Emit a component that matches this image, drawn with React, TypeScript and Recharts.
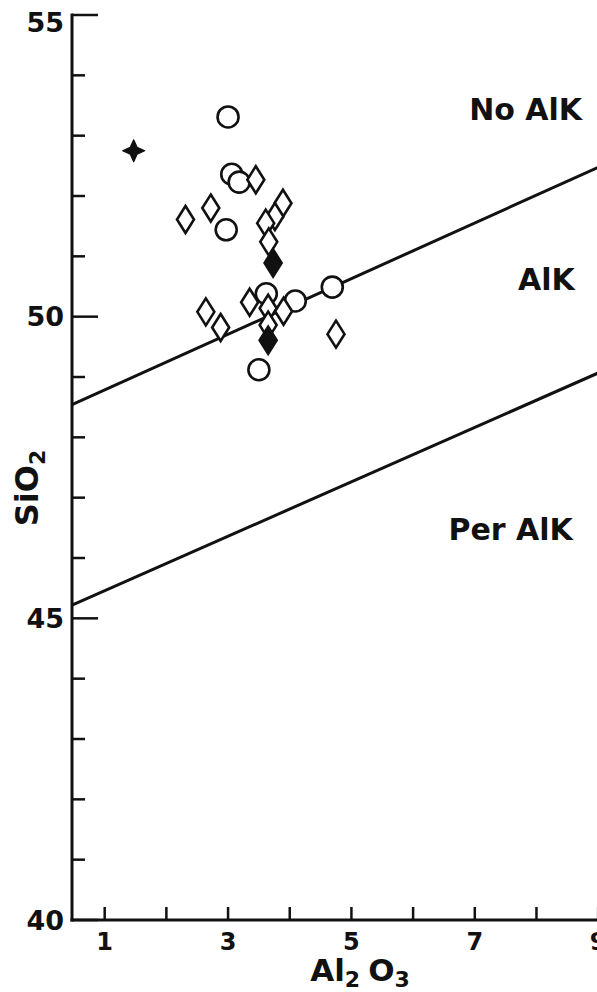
import React from 'react';
import { ScatterChart, Scatter, XAxis, YAxis } from 'recharts';

const FONT = '"DejaVu Sans", "Liberation Sans", Arial, sans-serif';

// Axis ticks
const xTicks = [1, 2, 3, 4, 5, 6, 7, 8, 9];
const xTickLabels = [1, 3, 5, 7, 9];
const yTicks = [40, 41, 42, 43, 44, 45, 46, 47, 48, 49, 50, 51, 52, 53, 54, 55];
const yTickLabels = [40, 45, 50, 55];
const xDomain = [0.47, 9.03];
const yDomain = [40, 55];

// Data series (Al2O3, SiO2)
const openCircles = [
  { x: 3.0, y: 53.31 },
  { x: 3.06, y: 52.36 },
  { x: 3.18, y: 52.23 },
  { x: 2.97, y: 51.44 },
  { x: 3.62, y: 50.38 },
  { x: 4.09, y: 50.26 },
  { x: 4.69, y: 50.49 },
  { x: 3.5, y: 49.12 },
];

const openDiamonds = [
  { x: 3.45, y: 52.27 },
  { x: 2.72, y: 51.8 },
  { x: 2.31, y: 51.61 },
  { x: 3.89, y: 51.88 },
  { x: 3.76, y: 51.66 },
  { x: 3.61, y: 51.55 },
  { x: 3.66, y: 51.24 },
  { x: 3.35, y: 50.24 },
  { x: 2.64, y: 50.08 },
  { x: 2.88, y: 49.82 },
  { x: 3.65, y: 50.14 },
  { x: 3.9, y: 50.09 },
  { x: 3.65, y: 49.86 },
  { x: 4.75, y: 49.71 },
];

const filledDiamonds = [
  { x: 3.73, y: 50.89 },
  { x: 3.65, y: 49.61 },
];

const crosses = [{ x: 1.47, y: 52.75 }];

// Field boundaries
const upperBoundary = [
  { x: 0.47, y: 48.54 },
  { x: 9.03, y: 52.49 },
];
const lowerBoundary = [
  { x: 0.47, y: 45.22 },
  { x: 9.03, y: 49.08 },
];

// Field names
const regionLabels = [
  { x: 8.74, y: 53.26, text: 'No AlK' },
  { x: 8.62, y: 50.44, text: 'AlK' },
  { x: 8.59, y: 46.3, text: 'Per AlK' },
];

const INK = '#111';

const LeftTick = (props: any) => {
  const { x, y, payload } = props;
  const v = payload.value;
  const major = yTickLabels.includes(v);
  return (
    <g>
      <line x1={x} x2={x + (major ? 26 : 13)} y1={y} y2={y} stroke={INK} strokeWidth={2.5} />
      {major && (
        <text
          x={x - 8}
          y={y + (v === 55 ? 7 : 0)}
          textAnchor="end"
          dominantBaseline="central"
          fontSize={27}
          fontWeight="bold"
          fontFamily={FONT}
          fill={INK}
        >
          {String(v)}
        </text>
      )}
    </g>
  );
};

const RightTick = (props: any) => {
  const { x, y, payload } = props;
  const major = yTickLabels.includes(payload.value);
  return <line x1={x} x2={x - (major ? 22 : 12)} y1={y} y2={y} stroke={INK} strokeWidth={2.5} />;
};

const BottomTick = (props: any) => {
  const { x, y, payload } = props;
  const v = payload.value;
  return (
    <g>
      <line x1={x} x2={x} y1={y} y2={y - 13} stroke={INK} strokeWidth={2.5} />
      {xTickLabels.includes(v) && (
        <text
          x={x}
          y={y + 22}
          textAnchor="middle"
          dominantBaseline="central"
          fontSize={24}
          fontWeight="bold"
          fontFamily={FONT}
          fill={INK}
        >
          {String(v)}
        </text>
      )}
    </g>
  );
};

const TopTick = (props: any) => {
  const { x, y } = props;
  return <line x1={x} x2={x} y1={y} y2={y + 13} stroke={INK} strokeWidth={2.5} />;
};

const XTitle = () => (
  <text x={360} y={981} textAnchor="middle" fontSize={31} fontWeight="bold" fontFamily={FONT} fill={INK}>
    Al
    <tspan dy={6} fontSize={22}>2</tspan>
    <tspan dy={-6} dx={8}>O</tspan>
    <tspan dy={6} fontSize={22}>3</tspan>
  </text>
);

const YTitle = () => (
  <text
    x={38}
    y={488}
    transform="rotate(-90 38 488)"
    textAnchor="middle"
    fontSize={32}
    fontWeight="bold"
    fontFamily={FONT}
    fill={INK}
  >
    SiO
    <tspan dy={7} fontSize={22}>2</tspan>
  </text>
);

const CircleShape = (props: any) => {
  const { cx, cy } = props;
  if (cx == null || cy == null) return <g />;
  return <circle cx={cx} cy={cy} r={10.5} fill="#fff" stroke={INK} strokeWidth={2.6} />;
};

const diamondPoints = (cx: number, cy: number) =>
  `${cx},${cy - 13.5} ${cx + 8.5},${cy} ${cx},${cy + 13.5} ${cx - 8.5},${cy}`;

const OpenDiamondShape = (props: any) => {
  const { cx, cy } = props;
  if (cx == null || cy == null) return <g />;
  return <polygon points={diamondPoints(cx, cy)} fill="#fff" stroke={INK} strokeWidth={2.6} />;
};

const FilledDiamondShape = (props: any) => {
  const { cx, cy } = props;
  if (cx == null || cy == null) return <g />;
  return <polygon points={diamondPoints(cx, cy)} fill={INK} stroke={INK} strokeWidth={2.6} />;
};

const CrossShape = (props: any) => {
  const { cx, cy } = props;
  if (cx == null || cy == null) return <g />;
  const a = 11;
  const b = 3.4;
  const d = `M ${cx} ${cy - a} L ${cx + b} ${cy - b} L ${cx + a} ${cy} L ${cx + b} ${cy + b} L ${cx} ${cy + a} L ${cx - b} ${cy + b} L ${cx - a} ${cy} L ${cx - b} ${cy - b} Z`;
  return <path d={d} fill={INK} stroke={INK} strokeWidth={1.2} strokeLinejoin="round" />;
};

const RegionLabelShape = (props: any) => {
  const { cx, cy, payload } = props;
  if (cx == null || cy == null) return <g />;
  return (
    <text x={cx} y={cy} textAnchor="end" fontSize={30} fontWeight="bold" fontFamily={FONT} fill={INK}>
      {payload.text}
    </text>
  );
};

const NoShape = () => <g />;

const axisLineStyle = { stroke: INK, strokeWidth: 3, strokeLinecap: 'square' as const };

export default function App() {
  return (
    <div
      style={{
        position: 'absolute',
        left: 0,
        top: 0,
        width: 597,
        height: 992,
        overflow: 'hidden',
        background: '#fff',
      }}
    >
      <ScatterChart width={600} height={992} margin={{ top: 15, right: 0, bottom: 0, left: 0 }}>
        <XAxis
          xAxisId={0}
          type="number"
          dataKey="x"
          domain={xDomain}
          ticks={xTicks}
          interval={0}
          allowDataOverflow
          height={72}
          tickSize={0}
          tickMargin={0}
          tickLine={false}
          axisLine={axisLineStyle}
          tick={BottomTick}
          label={<XTitle />}
        />
        <XAxis
          xAxisId="top"
          orientation="top"
          type="number"
          dataKey="x"
          domain={xDomain}
          ticks={xTicks}
          interval={0}
          allowDataOverflow
          height={0}
          tickSize={0}
          tickMargin={0}
          tickLine={false}
          axisLine={axisLineStyle}
          tick={TopTick}
        />
        <YAxis
          yAxisId={0}
          type="number"
          dataKey="y"
          domain={yDomain}
          ticks={yTicks}
          interval={0}
          allowDataOverflow
          width={72}
          tickSize={0}
          tickMargin={0}
          tickLine={false}
          axisLine={axisLineStyle}
          tick={LeftTick}
          label={<YTitle />}
        />
        <YAxis
          yAxisId="right"
          orientation="right"
          type="number"
          dataKey="y"
          domain={yDomain}
          ticks={yTicks}
          interval={0}
          allowDataOverflow
          width={0}
          tickSize={0}
          tickMargin={0}
          tickLine={false}
          axisLine={false}
          tick={RightTick}
        />
        <Scatter
          data={upperBoundary}
          line={{ stroke: INK, strokeWidth: 3 }}
          shape={NoShape}
          isAnimationActive={false}
        />
        <Scatter
          data={lowerBoundary}
          line={{ stroke: INK, strokeWidth: 3 }}
          shape={NoShape}
          isAnimationActive={false}
        />
        <Scatter data={openCircles} shape={CircleShape} isAnimationActive={false} />
        <Scatter data={openDiamonds} shape={OpenDiamondShape} isAnimationActive={false} />
        <Scatter data={filledDiamonds} shape={FilledDiamondShape} isAnimationActive={false} />
        <Scatter data={crosses} shape={CrossShape} isAnimationActive={false} />
        <Scatter data={regionLabels} shape={RegionLabelShape} isAnimationActive={false} />
      </ScatterChart>
    </div>
  );
}
